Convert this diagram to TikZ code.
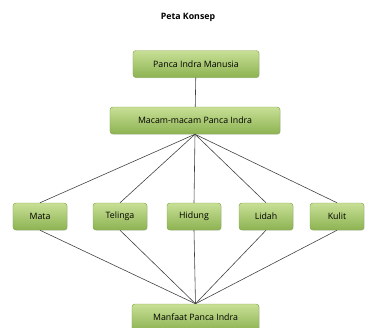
\documentclass[tikz,border=0pt]{standalone}
\usepackage{fontspec}
\setmainfont{Open Sans}
\usetikzlibrary{shadows}
\usepackage{xcolor}
\definecolor{boxtop}{HTML}{C8E096}
\definecolor{boxbot}{HTML}{8DB252}
\definecolor{boxline}{HTML}{86A84E}

\begin{document}
\begin{tikzpicture}[
    x = 0.03cm, y = -0.03cm,   % one unit = one pixel of the sketch
    every node/.style = {font = \fontsize{7.5}{9}\selectfont},
    konsep/.style = {
        rectangle, rounded corners = 2.5pt,
        draw = boxline, top color = boxtop, bottom color = boxbot,
        minimum height = 0.81cm, inner sep = 1pt, align = center,
        drop shadow = {opacity = 0.25, shadow xshift = 0.6pt, shadow yshift = -0.6pt}
    },
    indra/.style = {konsep, minimum width = 1.62cm},
    link/.style = {draw = black!75, line width = 0.5pt}
]
\useasboundingbox (0,0) rectangle (365,327);

% --- Title ---
\node[font = \fontsize{7.5}{9}\selectfont\bfseries] (judul) at (188,17) {Peta Konsep};

% --- Nodes placed by absolute coordinates (px) ---
\node[konsep, minimum width = 3.78cm] (manusia) at (196,64)    {Panca Indra Manusia};

\node[konsep, minimum width = 5.1cm]  (macam)   at (195,120.5) {Macam-macam Panca Indra};

\node[indra] (mata)    at ( 40,216.5) {Mata};
\node[indra] (telinga) at (120,216.5) {Telinga};
\node[indra] (hidung)  at (194,216.5) {Hidung};
\node[indra] (lidah)   at (266,216.5) {Lidah};
\node[indra] (kulit)   at (337,216.5) {Kulit};

\node[konsep, minimum width = 3.81cm] (manfaat) at (195.5,317.5) {Manfaat Panca Indra};

% --- Connectors ---
\draw[link] (manusia) -- (macam);

\foreach \n in {mata, telinga, hidung, lidah, kulit} {
    \draw[link] (macam.south) -- (\n.north);
    \draw[link] (\n.south) -- (manfaat.north);
}

\end{tikzpicture}
\end{document}
